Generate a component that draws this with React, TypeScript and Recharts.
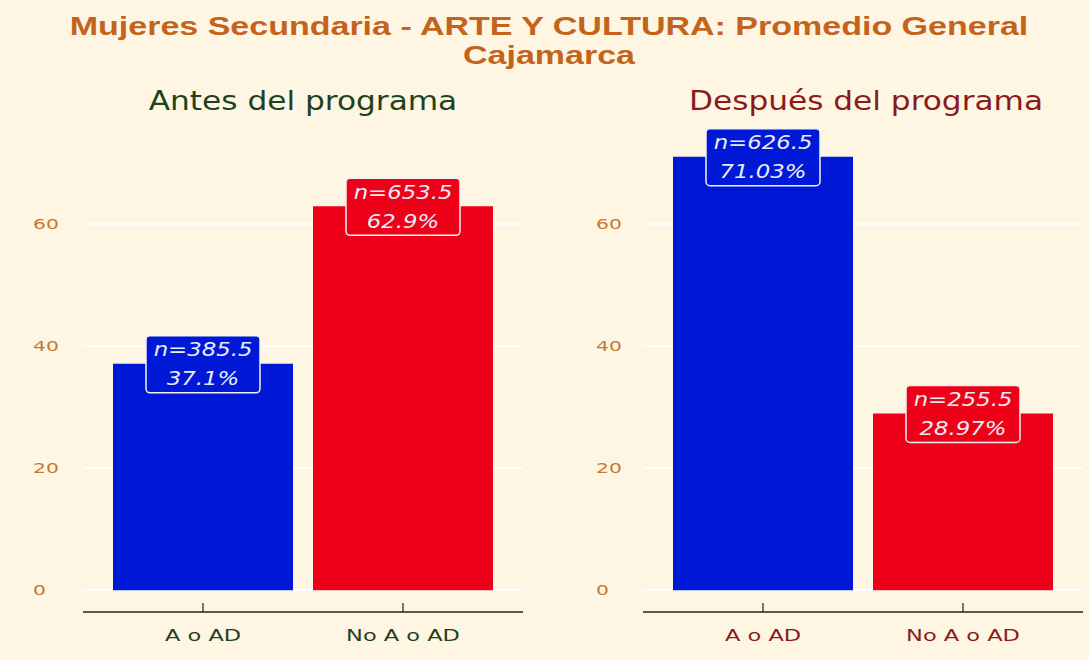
import React from "react";
import { BarChart, Bar, XAxis, YAxis, CartesianGrid, Cell, LabelList } from "recharts";

// categories and values
const categories = ["A o AD", "No A o AD"];
const antesPct = [37.1, 62.9];
const antesN = [385.5, 653.5];
const despuesPct = [71.03, 28.97];
const despuesN = [626.5, 255.5];
const yTicks = [0, 20, 40, 60];

const barColors = ["#0019d6", "#ee0019"];
const bg = "#fef6e2";
const tickColor = "#c27a36";

const YTick = (props: any) => {
  const { y, payload, left } = props;
  return (
    <g transform={`translate(${left}, ${y}) scale(1.45, 1)`}>
      <text x={0} y={0} dy="0.35em" textAnchor="start" fill={tickColor} fontSize={14} fontFamily="DejaVu Sans">
        {payload.value}
      </text>
    </g>
  );
};

const XTick = (props: any) => {
  const { x, y, payload, color } = props;
  return (
    <g>
      <line x1={x} x2={x} y1={y - 9} y2={y} stroke="#222" strokeWidth={1.2} />
      <g transform={`translate(${x}, ${y + 24}) scale(1.5, 1)`}>
        <text x={0} y={0} dy="0.35em" textAnchor="middle" fill={color} fontSize={15} fontFamily="DejaVu Sans">
          {payload.value}
        </text>
      </g>
    </g>
  );
};

const BarLabel = (props: any) => {
  const { x, y, width, index, ns } = props;
  const cx = x + width / 2;
  const pct = props.value;
  return (
    <g>
      <rect x={cx - 57} y={y - 28} width={114} height={57} rx={4} fill={barColors[index]} stroke="#f2f2f2" strokeWidth={1.5} />
      <g transform={`translate(${cx}, ${y - 14}) scale(1.2, 1)`}>
        <text x={0} y={0} dy="0.35em" textAnchor="middle" fill="#e8ebf5" fontSize={19} fontStyle="italic" fontFamily="DejaVu Sans">
          {"n=" + ns[index]}
        </text>
      </g>
      <g transform={`translate(${cx}, ${y + 15}) scale(1.2, 1)`}>
        <text x={0} y={0} dy="0.35em" textAnchor="middle" fill="#e8ebf5" fontSize={19} fontStyle="italic" fontFamily="DejaVu Sans">
          {pct + "%"}
        </text>
      </g>
    </g>
  );
};

const Panel = ({ pct, ns, left, width, marginRight, tickLeft, labelColor }: any) => {
  const data = categories.map((c, i) => ({ cat: c, pct: pct[i], n: ns[i] }));
  return (
    <div style={{ position: "absolute", left, top: 0 }}>
      <BarChart width={width} height={660} data={data} margin={{ top: 135, right: marginRight, bottom: 8, left: 0 }}>
        <CartesianGrid vertical={false} horizontalValues={yTicks} stroke="#ffffff" strokeWidth={1.5} />
        <XAxis
          dataKey="cat"
          padding={{ left: 20, right: 20 }}
          height={40}
          interval={0}
          tickLine={false}
          tickSize={0}
          tickMargin={0}
          axisLine={{ stroke: "#222", strokeWidth: 1.3 }}
          tick={<XTick color={labelColor} />}
        />
        <YAxis
          type="number"
          domain={[-3.55, 74.58]}
          ticks={yTicks}
          width={83}
          axisLine={false}
          tickLine={false}
          tick={<YTick left={tickLeft} />}
        />
        <Bar dataKey="pct" barSize={180} isAnimationActive={false}>
          {data.map((d, i) => (
            <Cell key={d.cat} fill={barColors[i]} />
          ))}
          <LabelList dataKey="pct" content={<BarLabel ns={ns} />} />
        </Bar>
      </BarChart>
    </div>
  );
};

export default function App() {
  return (
    <div style={{ position: "absolute", left: 0, top: 0, width: 1089, height: 660, background: bg, overflow: "hidden" }}>
      <div
        style={{
          position: "absolute",
          top: 12,
          left: 0,
          width: 1098,
          textAlign: "center",
          color: "#c4641c",
          fontFamily: "Liberation Sans, Arial, sans-serif",
          fontWeight: "bold",
          fontSize: 25,
          lineHeight: "29px",
          transform: "scaleX(1.36)",
          transformOrigin: "549px 0",
        }}
      >
        Mujeres Secundaria - ARTE Y CULTURA: Promedio General
        <br />
        Cajamarca
      </div>
      <svg width={1089} height={130} style={{ position: "absolute", left: 0, top: 0 }}>
        <g transform="translate(303, 101) scale(1.2, 1)">
          <text x={0} y={0} dy="0.35em" textAnchor="middle" fill="#1e4220" fontSize={26} fontFamily="DejaVu Sans">
            Antes del programa
          </text>
        </g>
        <g transform="translate(866, 101) scale(1.2, 1)">
          <text x={0} y={0} dy="0.35em" textAnchor="middle" fill="#8b1a1a" fontSize={26} fontFamily="DejaVu Sans">
            Después del programa
          </text>
        </g>
      </svg>
      <Panel pct={antesPct} ns={antesN} left={0} width={545} marginRight={22} tickLeft={33} labelColor="#1e4220" />
      <Panel pct={despuesPct} ns={despuesN} left={560} width={529} marginRight={6} tickLeft={36} labelColor="#8b1a1a" />
    </div>
  );
}
